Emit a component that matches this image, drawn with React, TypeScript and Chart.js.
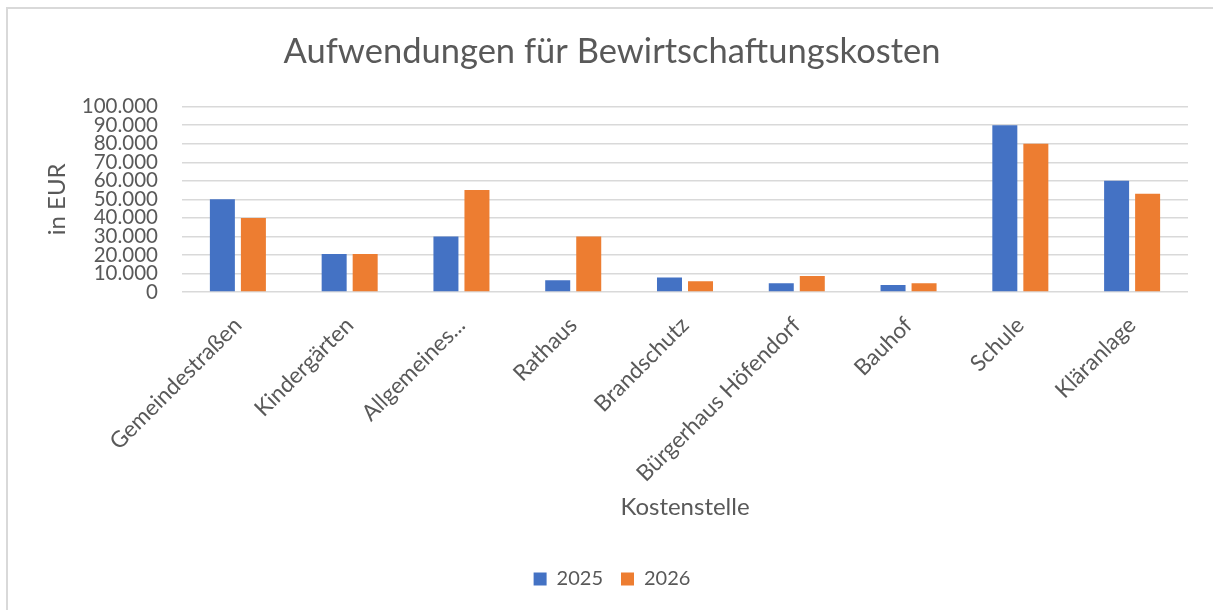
import React, { useEffect, useRef } from "react";
import { Chart, registerables } from "chart.js";

Chart.register(...registerables);

const categories = [
  "Gemeindestraßen",
  "Kindergärten",
  "Allgemeines...",
  "Rathaus",
  "Brandschutz",
  "Bürgerhaus Höfendorf",
  "Bauhof",
  "Schule",
  "Kläranlage",
];
const values2025 = [50000, 20500, 30000, 6300, 7800, 4700, 3800, 90000, 60000];
const values2026 = [40000, 20500, 55000, 30000, 5800, 8700, 4700, 80000, 53000];
const seriesLabels = ["2025", "2026"];
const chartTitle = "Aufwendungen für Bewirtschaftungskosten";
const yTitle = "in EUR";
const xTitle = "Kostenstelle";

const FONT = "Lato, 'Open Sans', sans-serif";
const TEXT = "#595959";
const GRID = "#d9d9d9";

const fmt = (v: number) => String(Math.round(v)).replace(/\B(?=(\d{3})+(?!\d))/g, ".");

const borderPlugin = {
  id: "outerBorder",
  beforeDraw(chart: any) {
    const ctx = chart.ctx;
    ctx.save();
    ctx.fillStyle = "#ffffff";
    ctx.fillRect(0, 0, chart.width, chart.height);
    ctx.fillStyle = GRID;
    ctx.fillRect(6, 7, 2, chart.height - 7);
    ctx.fillRect(6, 7, chart.width - 6, 2);
    ctx.restore();
  },
};

export default function App() {
  const ref = useRef<HTMLCanvasElement>(null);
  useEffect(() => {
    if (!ref.current) return;
    const chart = new Chart(ref.current, {
      type: "bar",
      data: {
        labels: categories,
        datasets: [
          {
            label: seriesLabels[0],
            data: values2025,
            backgroundColor: "#4472C4",
            categoryPercentage: 0.555,
            barPercentage: 0.806,
          },
          {
            label: seriesLabels[1],
            data: values2026,
            backgroundColor: "#ED7D31",
            categoryPercentage: 0.555,
            barPercentage: 0.806,
          },
        ],
      },
      options: {
        animation: false,
        responsive: false,
        maintainAspectRatio: false,
        layout: { padding: { left: 36, right: 25, top: 0, bottom: 11 } },
        plugins: {
          title: {
            display: true,
            text: chartTitle,
            color: TEXT,
            font: { family: FONT, size: 34.5, weight: "normal" },
            padding: { top: 31.3, bottom: 34 },
          },
          legend: {
            position: "bottom",
            labels: {
              color: TEXT,
              font: { family: FONT, size: 20 },
              boxWidth: 13,
              boxHeight: 13,
              padding: 18,
            },
          },
          tooltip: { enabled: false },
        },
        scales: {
          x: {
            grid: { display: false, drawTicks: false },
            border: { display: false },
            ticks: {
              color: TEXT,
              font: { family: FONT, size: 22.5 },
              maxRotation: 45,
              minRotation: 45,
              autoSkip: false,
              padding: 20,
            },
            title: {
              display: true,
              text: xTitle,
              color: TEXT,
              font: { family: FONT, size: 24 },
              padding: { top: 0, bottom: 29.6 },
            },
            afterFit: (scale: any) => {
              scale.height = 259;
            },
          },
          y: {
            min: 0,
            max: 100000,
            grid: { color: GRID, lineWidth: 1.5, drawTicks: false },
            border: { display: false },
            ticks: {
              stepSize: 10000,
              autoSkip: false,
              color: TEXT,
              font: { family: FONT, size: 20.5 },
              padding: 24,
              callback: (v: any) => fmt(Number(v)),
            },
            title: {
              display: true,
              text: yTitle,
              color: TEXT,
              font: { family: FONT, size: 24 },
              padding: { top: 6.6, bottom: 0 },
            },
            afterFit: (scale: any) => {
              scale.width = 146;
            },
          },
        },
      },
      plugins: [borderPlugin],
    });
    return () => chart.destroy();
  }, []);
  return (
    <div style={{ position: "fixed", left: 0, top: 0, width: 1213, height: 610, background: "#fff" }}>
      <canvas ref={ref} width={1213} height={610} style={{ display: "block", width: 1213, height: 610 }} />
    </div>
  );
}
